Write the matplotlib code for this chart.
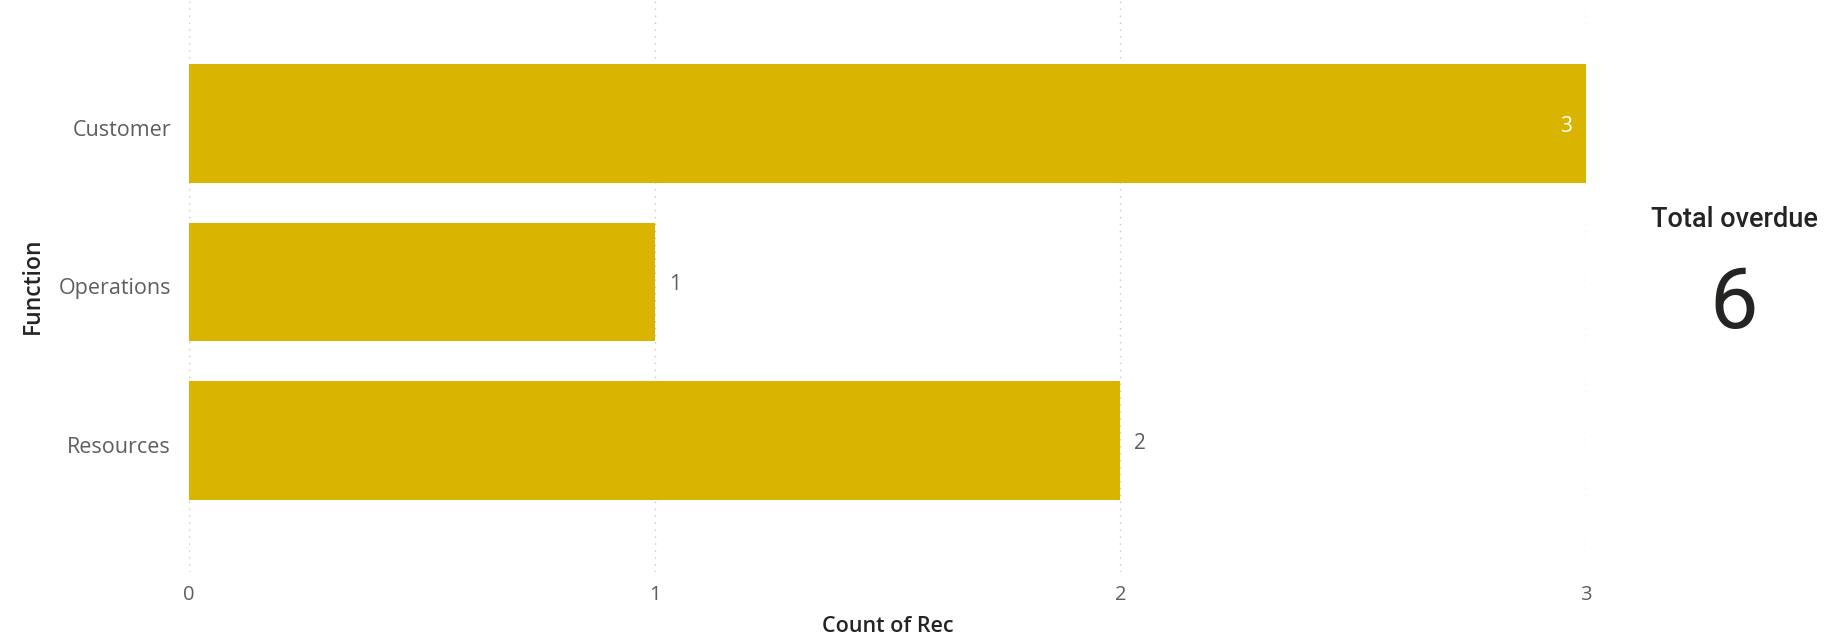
import matplotlib.pyplot as plt
import matplotlib.transforms as mtransforms

functions = ["Customer", "Operations", "Resources"]
counts = [3, 1, 2]
x_ticks = [0, 1, 2, 3]
card_title = "Total overdue"
card_value = sum(counts)

bar_color = "#D9B400"
text_gray = "#605E5C"
dark = "#252423"

plt.rcParams["font.family"] = ["Open Sans", "DejaVu Sans"]

fig = plt.figure(figsize=(18.31, 6.41), dpi=100)
ax = fig.add_axes([0.1032, 0.1076, 0.7630, 0.8924])

ypos = list(range(len(functions)))
ax.barh(ypos, counts, height=0.75, color=bar_color, zorder=2)

ax.set_xlim(0, 3)
ax.set_ylim(2.83, -0.78)
ax.set_yticks(ypos)
ax.set_yticklabels(functions, fontsize=15.5)
ax.set_xticks(x_ticks)
ax.tick_params(axis="both", length=0, labelcolor=text_gray)
ax.tick_params(axis="x", labelsize=14.5, pad=9)
ax.tick_params(axis="y", pad=13)

# nudge category labels down a little
shift = mtransforms.ScaledTranslation(0, -4 / 100, fig.dpi_scale_trans)
for lbl in ax.get_yticklabels():
    lbl.set_transform(lbl.get_transform() + shift)

for s in ax.spines.values():
    s.set_visible(False)
ax.grid(axis="x", color="#C8C6C4", linestyle=(0, (1, 4)), linewidth=1, zorder=1)
ax.set_axisbelow(True)

ax.set_xlabel("Count of Rec", fontsize=15.5, color=dark, fontweight="semibold", labelpad=8)
ax.set_ylabel("Function", fontsize=16.5, color=dark, fontweight="semibold", labelpad=10)

for y, v in zip(ypos, counts):
    if v >= max(counts):
        ax.text(v - 0.03, y, str(v), ha="right", va="center_baseline", fontsize=15, color="white")
    else:
        ax.text(v + 0.03, y, str(v), ha="left", va="center_baseline", fontsize=15, color=text_gray)

fig.text(0.947, 0.657, card_title, ha="center", va="center", fontsize=19.5,
         color=dark, family=["Roboto", "DejaVu Sans"], fontweight="medium")
fig.text(0.947, 0.525, str(card_value), ha="center", va="center", fontsize=62,
         color=dark, family=["Roboto", "DejaVu Sans"])

fig.savefig("out.png", dpi=100)
